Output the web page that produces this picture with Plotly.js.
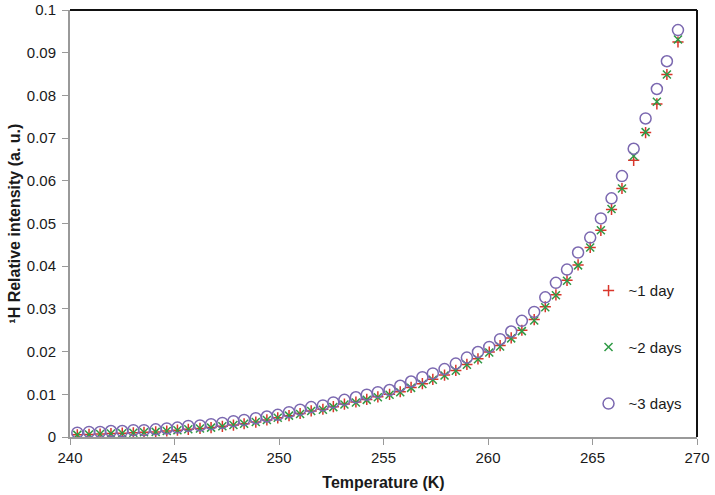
<!DOCTYPE html>
<html>
<head>
<meta charset="utf-8">
<script src="https://cdn.plot.ly/plotly-3.0.1.min.js"></script>
<style>html,body{margin:0;padding:0;background:#fff;}#chart{width:715px;height:495px;}</style>
</head>
<body>
<div id="chart"></div>
<script>
const temperature = [240.35, 240.91, 241.44, 241.96, 242.50, 243.03, 243.54, 244.10, 244.63, 245.14,
  245.66, 246.22, 246.75, 247.29, 247.82, 248.33, 248.89, 249.42, 249.94, 250.48,
  251.01, 251.54, 252.10, 252.60, 253.13, 253.68, 254.20, 254.73, 255.29, 255.80,
  256.32, 256.86, 257.36, 257.92, 258.46, 258.99, 259.52, 260.06, 260.58, 261.11,
  261.62, 262.21, 262.74, 263.25, 263.78, 264.31, 264.89, 265.40, 265.91, 266.41,
  266.97, 267.54, 268.08, 268.56, 269.09];

const day1 = [0.0005, 0.0006, 0.0007, 0.0008, 0.0009, 0.0010, 0.0011, 0.0012, 0.0014, 0.0016,
  0.0018, 0.0020, 0.0022, 0.0025, 0.0028, 0.0031, 0.0035, 0.0040, 0.0045, 0.0050,
  0.0055, 0.0061, 0.0065, 0.0071, 0.0077, 0.0082, 0.0088, 0.0094, 0.0100, 0.0106,
  0.0116, 0.0125, 0.0135, 0.0145, 0.0156, 0.0170, 0.0183, 0.0199, 0.0214, 0.0232,
  0.0250, 0.0275, 0.0305, 0.0333, 0.0367, 0.0403, 0.0444, 0.0484, 0.0533, 0.0582,
  0.0648, 0.0713, 0.0780, 0.0849, 0.0925];

const day2 = [0.0005, 0.0006, 0.0007, 0.0008, 0.0009, 0.0010, 0.0011, 0.0012, 0.0014, 0.0016,
  0.0018, 0.0020, 0.0022, 0.0025, 0.0028, 0.0031, 0.0035, 0.0040, 0.0045, 0.0050,
  0.0054, 0.0061, 0.0064, 0.0070, 0.0076, 0.0081, 0.0087, 0.0093, 0.0099, 0.0105,
  0.0115, 0.0124, 0.0134, 0.0144, 0.0155, 0.0169, 0.0182, 0.0198, 0.0212, 0.0231,
  0.0248, 0.0273, 0.0304, 0.0332, 0.0366, 0.0402, 0.0444, 0.0484, 0.0534, 0.0582,
  0.0658, 0.0714, 0.0785, 0.0849, 0.0931];

const day3 = [0.0010, 0.0012, 0.0012, 0.0014, 0.0014, 0.0016, 0.0016, 0.0018, 0.0020, 0.0022,
  0.0026, 0.0027, 0.0030, 0.0033, 0.0037, 0.0040, 0.0044, 0.0048, 0.0052, 0.0058,
  0.0064, 0.0070, 0.0074, 0.0081, 0.0087, 0.0093, 0.0099, 0.0105, 0.0110, 0.0120,
  0.0130, 0.0140, 0.0149, 0.0159, 0.0172, 0.0186, 0.0199, 0.0211, 0.0229, 0.0247,
  0.0272, 0.0293, 0.0327, 0.0361, 0.0392, 0.0432, 0.0467, 0.0512, 0.0559, 0.0611,
  0.0675, 0.0746, 0.0815, 0.0880, 0.0953];

const seriesNames = ['~1 day', '~2 days', '~3 days'];
const xTicks = [240, 245, 250, 255, 260, 265, 270];
const yTicks = [0, 0.01, 0.02, 0.03, 0.04, 0.05, 0.06, 0.07, 0.08, 0.09, 0.1];
const yTickText = ['0', '0.01', '0.02', '0.03', '0.04', '0.05', '0.06', '0.07', '0.08', '0.09', '0.1'];
const xTitle = 'Temperature (K)';
const yTitle = '¹H Relative intensity (a. u.)';

const font = 'Liberation Sans, Arial, sans-serif';
const red = '#d9362b', green = '#2f9a45', purple = '#7b68b0';

const traces = [
  {x: temperature, y: day1, name: seriesNames[0], legendgroup: 'a', type: 'scatter', mode: 'markers',
   marker: {symbol: 'cross-thin-open', size: 8, color: red, line: {color: red, width: 1.5}}},
  {x: temperature, y: day2, name: seriesNames[1], legendgroup: 'b', type: 'scatter', mode: 'markers',
   marker: {symbol: 'x-thin-open', size: 8, color: green, line: {color: green, width: 1.5}}},
  {x: temperature, y: day3, name: seriesNames[2], legendgroup: 'c', type: 'scatter', mode: 'markers',
   marker: {symbol: 'circle-open', size: 11, color: purple, line: {color: purple, width: 1.5}}}
];

const layout = {
  width: 715, height: 495,
  margin: {l: 70, r: 18, t: 10, b: 58},
  paper_bgcolor: '#fff', plot_bgcolor: '#fff',
  font: {family: font, size: 15, color: '#1a1a1a'},
  showlegend: true,
  legend: {x: 0.827, y: 0.21, xanchor: 'left', yanchor: 'middle', bgcolor: 'rgba(0,0,0,0)',
           font: {family: font, size: 15, color: '#1a1a1a'}, tracegroupgap: 34, itemwidth: 30},
  xaxis: {range: [240, 270], tickvals: xTicks, ticks: 'outside', ticklen: 6, tickcolor: '#999',
          showline: true, linecolor: '#999', linewidth: 2, showgrid: false, zeroline: false,
          tickfont: {size: 15}, automargin: false, ticklabeloverflow: 'allow',
          title: {text: xTitle, font: {size: 16, family: font, weight: 'bold', color: '#1a1a1a'}, standoff: 12}},
  yaxis: {range: [0, 0.1], tickvals: yTicks, ticktext: yTickText, ticks: 'outside', ticklen: 6, tickcolor: '#999',
          showline: true, linecolor: '#999', linewidth: 2, showgrid: false, zeroline: false,
          tickfont: {size: 15}, ticklabelstandoff: 3, automargin: false, ticklabeloverflow: 'allow'},
  annotations: [
    {text: yTitle, xref: 'paper', yref: 'paper', x: -0.089, y: 0.5, xanchor: 'center', yanchor: 'middle',
     textangle: -90, showarrow: false, font: {size: 16, family: font, weight: 'bold', color: '#1a1a1a'}}
  ],
  shapes: [
    {type: 'line', xref: 'paper', yref: 'paper', x0: 0, x1: 1, y0: 1, y1: 1, layer: 'above', line: {color: '#111', width: 2}},
    {type: 'line', xref: 'paper', yref: 'paper', x0: 1, x1: 1, y0: 0, y1: 1, layer: 'above', line: {color: '#111', width: 2}}
  ]
};

Plotly.newPlot('chart', traces, layout, {displayModeBar: false, staticPlot: true});
</script>
</body>
</html>
